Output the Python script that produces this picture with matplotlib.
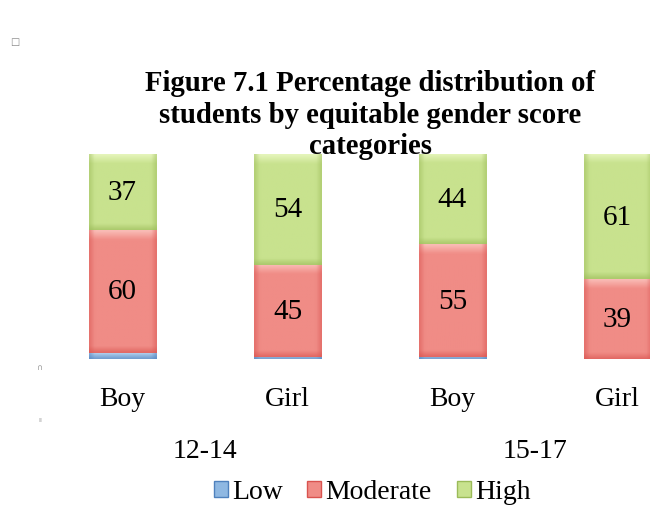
import numpy as np
import matplotlib.pyplot as plt
from matplotlib.colors import to_rgb
from matplotlib.patches import Patch
from matplotlib.transforms import blended_transform_factory

# data
sexes = ['Boy', 'Girl', 'Boy', 'Girl']
age_groups = ['12-14', '15-17']
low = [3, 1, 1, 0]
moderate = [60, 45, 55, 39]
high = [37, 54, 44, 61]
series_names = ['Low', 'Moderate', 'High']

plt.rcParams['font.family'] = ['Liberation Serif', 'DejaVu Serif']

base_cols = {'Low': '#8fb8e2', 'Moderate': '#f08c86', 'High': '#c8e28e'}
dark_cols = {'Low': '#4f81bd', 'Moderate': '#d9534f', 'High': '#9bbb59'}
light_cols = {'Low': '#c8def4', 'Moderate': '#fbc3bd', 'High': '#eaf8c2'}

fig = plt.figure(figsize=(6.5, 5.06), dpi=100)
ax = fig.add_axes([40 / 650, 146 / 506, 660 / 650, 205 / 506])
ax.set_xlim(-0.5, 3.5)
ax.set_ylim(0, 100)
ax.axis('off')

x = np.arange(len(sexes))
w = 0.41
px_per_unit = 205 / 100


def shade(name, h):
    # vertical + horizontal bevel like the old office charts
    base = np.array(to_rgb(base_cols[name]))
    dark = np.array(to_rgb(dark_cols[name]))
    light = np.array(to_rgb(light_cols[name]))
    ny, nx = 60, 30
    hpx = max(h * px_per_unit, 1)
    ypx = np.linspace(hpx, 0, ny)  # from top to bottom in pixels
    xs = np.linspace(-1, 1, nx)
    img = np.zeros((ny, nx, 3))
    for i, yy in enumerate(ypx):
        t_top = np.clip(1 - (hpx - yy) / 9, 0, 1)
        t_bot = np.clip(1 - yy / 6, 0, 1)
        row = base * (1 - 0.85 * t_top) + light * 0.85 * t_top
        row = row * (1 - 0.6 * t_bot) + dark * 0.6 * t_bot
        for j, xx in enumerate(xs):
            side = np.clip((abs(xx) - 0.85) / 0.15, 0, 1)
            img[i, j] = row * (1 - 0.45 * side) + dark * 0.45 * side
    return img


bottom = np.zeros(len(sexes))
for name, vals in zip(series_names, [low, moderate, high]):
    vals = np.array(vals, dtype=float)
    bars = ax.bar(x, vals, w, bottom=bottom, color='none', edgecolor='none')
    for b, v, b0 in zip(bars, vals, bottom):
        if v <= 0:
            continue
        im = ax.imshow(shade(name, v), extent=(b.get_x(), b.get_x() + w, b0, b0 + v),
                       aspect='auto', zorder=2, interpolation='bilinear')
        im.set_clip_path(b)
        if name != 'Low':
            ax.text(b.get_x() + w / 2, b0 + v / 2, f'{int(v)}', ha='center', va='center',
                    fontsize=21, zorder=3)
    bottom += vals

ax.set_xlim(-0.5, 3.5)
ax.set_ylim(0, 100)

tr = blended_transform_factory(ax.transData, fig.transFigure)
for xi, s in zip(x, sexes):
    ax.text(xi, 1 - 400 / 506, s, transform=tr, ha='center', va='center', fontsize=20)
for k, g in enumerate(age_groups):
    ax.text(2 * k + 0.5, 1 - 452 / 506, g, transform=tr, ha='center', va='center', fontsize=20)

fig.text(370 / 650, 1 - 70 / 506,
         'Figure 7.1 Percentage distribution of\nstudents by equitable gender score\ncategories',
         ha='center', va='top', fontsize=20.7, fontweight='bold', linespacing=1.22, zorder=5)

handles = [Patch(facecolor=base_cols[n], edgecolor=dark_cols[n]) for n in series_names]
fig.legend(handles, series_names, loc='center', bbox_to_anchor=(372 / 650, 1 - 493 / 506),
           ncol=3, frameon=False, fontsize=20, handlelength=0.5, handleheight=0.5,
           handletextpad=0.15, columnspacing=0.9, borderpad=0)

# small stray marks from the source document
fig.text(15 / 650, 1 - 42 / 506, '□', fontsize=7, color='#888888', ha='center', va='center',
         family='DejaVu Sans')
fig.text(40 / 650, 1 - 368 / 506, '∩', fontsize=6, color='#999999', ha='center', va='center',
         family='DejaVu Sans')
fig.text(40 / 650, 1 - 420 / 506, 'ıı', fontsize=5, color='#999999', ha='center', va='center',
         family='DejaVu Sans')

fig.savefig('out.png', dpi=100)
